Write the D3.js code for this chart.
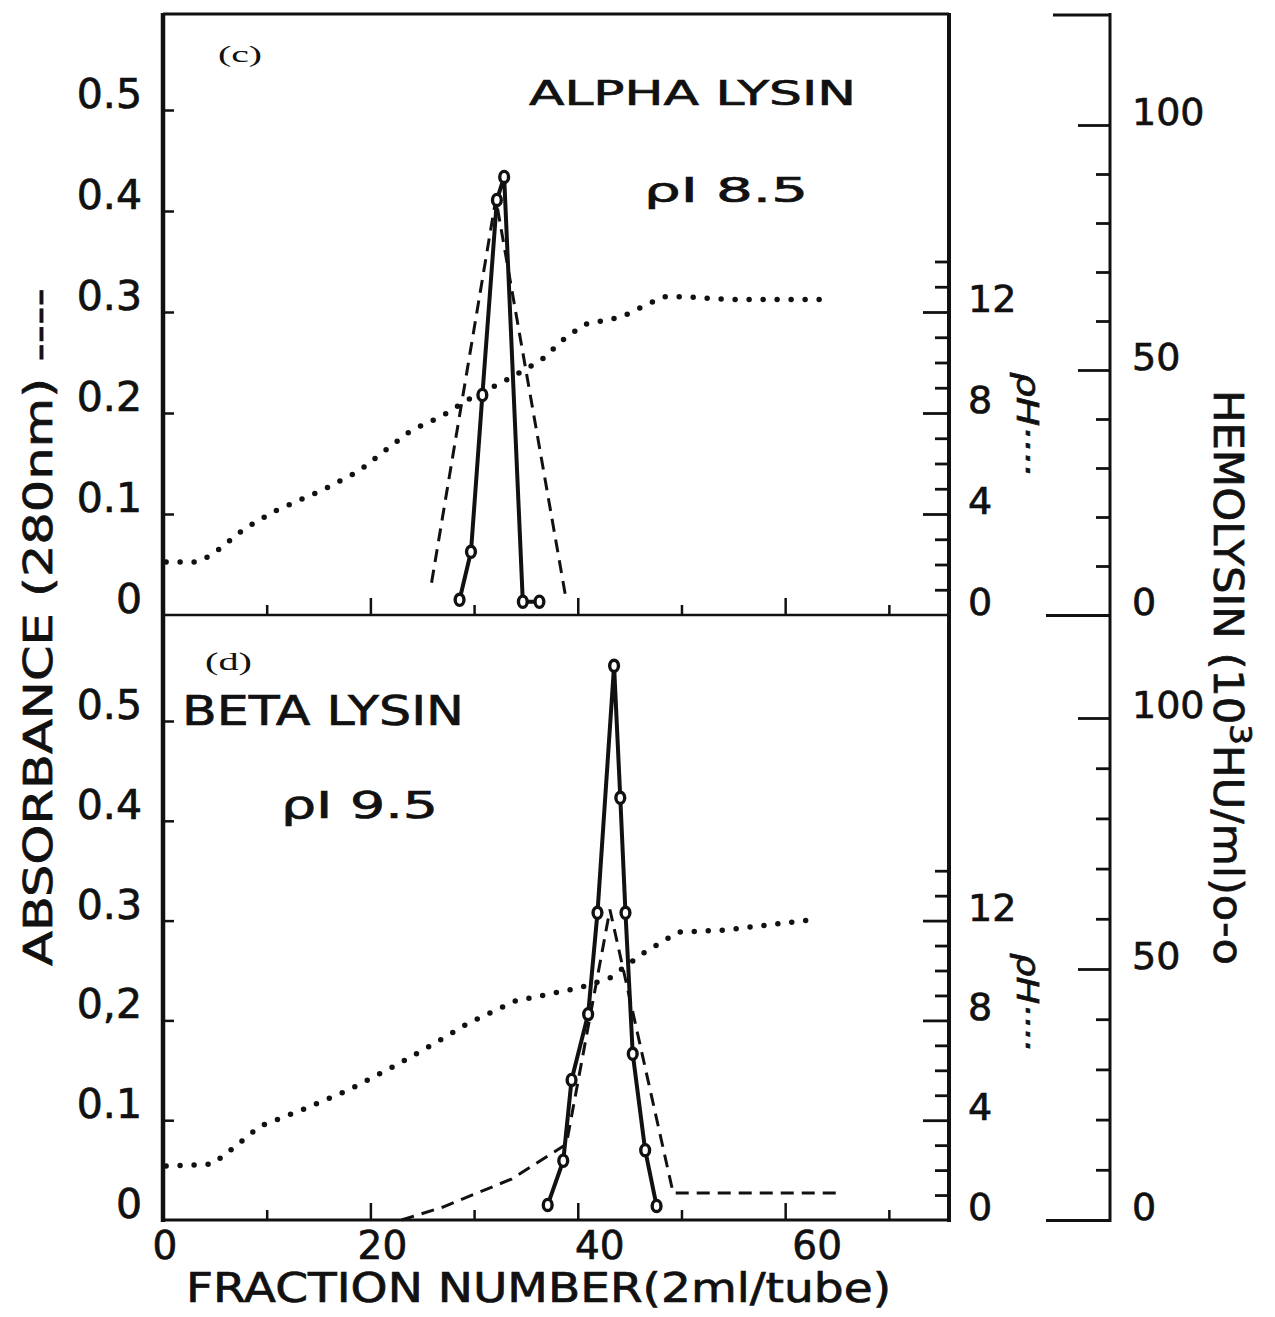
<!DOCTYPE html>
<html><head><meta charset="utf-8">
<script src="https://cdn.jsdelivr.net/npm/d3@7/dist/d3.min.js"></script>
<style>body{margin:0;background:#fff}svg{display:block}
text.heavy{stroke:#111;stroke-width:0.7px}</style>
</head><body>
<svg id="chart" width="1275" height="1317"></svg>
<script>
// ---------- data ----------
const fractionMajorTicks = [20, 40, 60];
const fractionMinorTicks = [10, 30, 50, 70];
const fractionLabels = [0, 20, 40, 60];
const absTickValues = [0, 0.1, 0.2, 0.3, 0.4, 0.5];
const absLabelsTop = ["0", "0.1", "0.2", "0.3", "0.4", "0.5"];
const absLabelsBottom = ["0", "0.1", "0,2", "0.3", "0.4", "0.5"];
const phMajorTicks = [4, 8, 12];
const phMinorTicks = [1, 2, 3, 5, 6, 7, 9, 10, 11, 13, 14];
const phLabels = [0, 4, 8, 12];
const hemoMinorTicks = [10, 20, 30, 40, 60, 70, 80, 90];
const hemoMajorTicks = [50, 100];
const hemoLabels = [0, 50, 100];

// panel (c) alpha lysin
const alphaHemoFraction = [28.6, 29.7, 30.8, 32.2, 32.9, 34.7, 36.3];
const alphaHemolysin    = [3.1, 12.9, 44.9, 84.7, 89.4, 2.7, 2.7];
const alphaAbsFraction  = [25.9, 32.1, 38.8];
const alphaAbsorbance   = [0.032, 0.412, 0.020];
const alphaPhFraction   = [0.3, 3.3, 4.8, 7.8, 10.7, 15.4, 18.9, 20.9, 23.9, 27.0, 29.5, 33.1, 36.5, 38.6, 40.6, 44.2, 46.2, 48.2, 50.7, 54.2, 63.3];
const alphaPh           = [2.1, 2.1, 2.4, 3.4, 4.1, 4.95, 5.7, 6.35, 7.3, 7.9, 8.55, 9.3, 10.1, 10.9, 11.5, 11.8, 12.2, 12.6, 12.6, 12.5, 12.5];

// panel (d) beta lysin
const betaHemoFraction = [37.1, 38.6, 39.4, 41.0, 41.9, 43.5, 44.1, 44.6, 45.3, 46.5, 47.6];
const betaHemolysin    = [3.0, 11.8, 27.9, 41.0, 61.2, 110.4, 84.1, 61.2, 33.1, 13.9, 2.8];
const betaAbsFraction  = [23.0, 27.0, 33.6, 38.9, 43.1, 49.2, 65.3];
const betaAbsorbance   = [0.0, 0.013, 0.041, 0.076, 0.311, 0.027, 0.027];
const betaPhFraction   = [0.3, 4.8, 6.3, 9.4, 13.4, 17.9, 22.5, 25.9, 29.5, 34.0, 40.1, 43.1, 46.2, 49.7, 54.2, 62.3];
const betaPh           = [2.16, 2.24, 2.73, 3.77, 4.41, 5.21, 6.21, 7.01, 7.9, 8.78, 9.3, 9.7, 10.66, 11.54, 11.62, 12.02];

// ---------- drawing ----------
const FONT = "'DejaVu Sans', Verdana, sans-serif";
const svg = d3.select("#chart");
const x = d3.scaleLinear().domain([0, 75.8]).range([163, 949]);
const xL = x.range()[0], xR = x.range()[1];
const hemoAxisX = 1110;

const panels = [
  { top: 14, bottom: 615,
    yAbs: d3.scaleLinear().domain([0, 0.5]).range([615, 110]),
    yPh: d3.scaleLinear().domain([0, 20]).range([615, 110]),
    yHemo: d3.scaleLinear().domain([0, 100]).range([615, 125]),
    absLabels: absLabelsTop,
    hemoF: alphaHemoFraction, hemo: alphaHemolysin,
    absF: alphaAbsFraction, abs: alphaAbsorbance,
    phF: alphaPhFraction, ph: alphaPh,
    phLabelSpan: [1017, 372, 104] },
  { top: 615, bottom: 1220,
    yAbs: d3.scaleLinear().domain([0, 0.5]).range([1220, 721]),
    yPh: d3.scaleLinear().domain([0, 20]).range([1220, 721]),
    yHemo: d3.scaleLinear().domain([0, 100]).range([1220, 718]),
    absLabels: absLabelsBottom,
    hemoF: betaHemoFraction, hemo: betaHemolysin,
    absF: betaAbsFraction, abs: betaAbsorbance,
    phF: betaPhFraction, ph: betaPh,
    phLabelSpan: [1017, 953, 98] }
];

function styleAxis(g, w) {
  g.select(".domain").remove();
  g.selectAll(".tick line").attr("stroke", "#111").attr("stroke-width", w);
}

panels.forEach((p) => {
  const g = svg.append("g");

  // pH dotted curve
  g.append("path")
    .attr("d", d3.line().x((d, i) => x(p.phF[i])).y(d => p.yPh(d))(p.ph))
    .attr("fill", "none").attr("stroke", "#111").attr("stroke-width", 5.5)
    .attr("stroke-linecap", "round").attr("stroke-dasharray", "0 14");

  // absorbance dashed curve
  g.append("path")
    .attr("d", d3.line().x((d, i) => x(p.absF[i])).y(d => p.yAbs(d))(p.abs))
    .attr("fill", "none").attr("stroke", "#111").attr("stroke-width", 3)
    .attr("stroke-dasharray", "13 8");

  // hemolysin solid curve with open circles
  g.append("path")
    .attr("d", d3.line().x((d, i) => x(p.hemoF[i])).y(d => p.yHemo(d))(p.hemo))
    .attr("fill", "none").attr("stroke", "#111").attr("stroke-width", 4)
    .attr("stroke-linejoin", "round");
  g.selectAll("ellipse.pt").data(p.hemo).join("ellipse")
    .attr("class", "pt")
    .attr("cx", (d, i) => x(p.hemoF[i])).attr("cy", d => p.yHemo(d))
    .attr("rx", 4.4).attr("ry", 5.6)
    .attr("fill", "#fff").attr("stroke", "#111").attr("stroke-width", 3.4);

  // left absorbance axis: ticks inside, labels raised above ticks
  const la = g.append("g").attr("transform", `translate(${xL},0)`)
    .call(d3.axisLeft(p.yAbs).tickValues(absTickValues.slice(1)).tickSizeInner(-11).tickSizeOuter(0).tickFormat(""));
  styleAxis(la, 2.5);
  g.selectAll("text.abslab").data(absTickValues).join("text")
    .attr("class", "abslab heavy")
    .attr("x", xL - 21).attr("y", d => p.yAbs(d) - 16)
    .attr("text-anchor", "end").attr("dominant-baseline", "central")
    .attr("font-family", FONT).attr("font-size", 41).attr("fill", "#111")
    .text((d, i) => p.absLabels[i]);

  // x ticks pointing up from panel bottom
  const xa1 = g.append("g").attr("transform", `translate(0,${p.bottom})`)
    .call(d3.axisBottom(x).tickValues(fractionMajorTicks).tickSizeInner(-17).tickSizeOuter(0).tickFormat(""));
  styleAxis(xa1, 2.5);
  const xa2 = g.append("g").attr("transform", `translate(0,${p.bottom})`)
    .call(d3.axisBottom(x).tickValues(fractionMinorTicks).tickSizeInner(-10).tickSizeOuter(0).tickFormat(""));
  styleAxis(xa2, 2.5);

  // pH axis (right edge of the box), ticks pointing inward
  const pa1 = g.append("g").attr("transform", `translate(${xR},0)`)
    .call(d3.axisLeft(p.yPh).tickValues(phMajorTicks).tickSizeInner(26).tickSizeOuter(0).tickFormat(""));
  styleAxis(pa1, 2.8);
  const pa2 = g.append("g").attr("transform", `translate(${xR},0)`)
    .call(d3.axisLeft(p.yPh).tickValues(phMinorTicks).tickSizeInner(14).tickSizeOuter(0).tickFormat(""));
  styleAxis(pa2, 2.8);
  g.selectAll("text.phlab").data(phLabels).join("text")
    .attr("class", "phlab heavy")
    .attr("x", 968).attr("y", d => p.yPh(d) - 13)
    .attr("text-anchor", "start").attr("dominant-baseline", "central")
    .attr("font-family", FONT).attr("font-size", 38).attr("fill", "#111")
    .text(d => d);
  // rotated pH label
  const [plx, ply, pll] = p.phLabelSpan;
  g.append("text")
    .attr("class", "heavy")
    .attr("transform", `translate(${plx},${ply}) rotate(90)`)
    .attr("font-family", FONT).attr("font-size", 31).attr("font-style", "italic").attr("fill", "#111")
    .attr("textLength", pll).attr("lengthAdjust", "spacingAndGlyphs")
    .text("ρH····");

  // hemolysin axis ticks
  const ha1 = g.append("g").attr("transform", `translate(${hemoAxisX},0)`)
    .call(d3.axisLeft(p.yHemo).tickValues(hemoMinorTicks).tickSizeInner(14).tickSizeOuter(0).tickFormat(""));
  styleAxis(ha1, 2.8);
  const ha2 = g.append("g").attr("transform", `translate(${hemoAxisX},0)`)
    .call(d3.axisLeft(p.yHemo).tickValues(hemoMajorTicks).tickSizeInner(32).tickSizeOuter(0).tickFormat(""));
  styleAxis(ha2, 2.8);
  const ha3 = g.append("g").attr("transform", `translate(${hemoAxisX},0)`)
    .call(d3.axisLeft(p.yHemo).tickValues([0]).tickSizeInner(64).tickSizeOuter(0).tickFormat(""));
  styleAxis(ha3, 2.8);
  g.selectAll("text.hlab").data(hemoLabels).join("text")
    .attr("class", "hlab heavy")
    .attr("x", 1132).attr("y", d => p.yHemo(d) - 13)
    .attr("text-anchor", "start").attr("dominant-baseline", "central")
    .attr("font-family", FONT).attr("font-size", 38).attr("fill", "#111")
    .text(d => d);
});

// ---------- frame ----------
const frameTop = panels[0].top, frameMid = panels[0].bottom, frameBot = panels[1].bottom;
const frame = svg.append("g").attr("stroke", "#111").attr("fill", "none");
frame.append("line").attr("x1", xL).attr("x2", xL).attr("y1", frameTop - 1).attr("y2", frameBot + 2).attr("stroke-width", 4.5);
frame.append("line").attr("x1", xR).attr("x2", xR).attr("y1", frameTop - 1).attr("y2", frameBot + 2).attr("stroke-width", 4);
frame.append("line").attr("x1", xL).attr("x2", xR).attr("y1", frameTop).attr("y2", frameTop).attr("stroke-width", 3);
frame.append("line").attr("x1", xL).attr("x2", xR).attr("y1", frameMid).attr("y2", frameMid).attr("stroke-width", 2.5);
frame.append("line").attr("x1", xL).attr("x2", xR).attr("y1", frameBot).attr("y2", frameBot).attr("stroke-width", 3);
// hemolysin axis spine + top cap
frame.append("line").attr("x1", hemoAxisX).attr("x2", hemoAxisX).attr("y1", frameTop - 1).attr("y2", frameBot + 2).attr("stroke-width", 3);
frame.append("line").attr("x1", hemoAxisX - 57).attr("x2", hemoAxisX).attr("y1", frameTop + 1).attr("y2", frameTop + 1).attr("stroke-width", 2.8);

// ---------- x tick labels & axis titles ----------
svg.selectAll("text.xlab").data(fractionLabels).join("text")
  .attr("class", "xlab heavy")
  .attr("x", d => x(d) + 2 + d * 0.5).attr("y", 1245)
  .attr("text-anchor", "middle").attr("dominant-baseline", "central")
  .attr("font-family", FONT).attr("font-size", 39).attr("fill", "#111")
  .text(d => d);

svg.append("text")
  .attr("class", "heavy")
  .attr("x", 186).attr("y", 1302)
  .attr("font-family", FONT).attr("font-size", 40).attr("fill", "#111")
  .attr("textLength", 705).attr("lengthAdjust", "spacingAndGlyphs")
  .text("FRACTION NUMBER(2ml/tube)");

svg.append("text")
  .attr("class", "heavy")
  .attr("transform", "translate(52,966) rotate(-90)")
  .attr("font-family", FONT).attr("font-size", 39).attr("fill", "#111")
  .attr("textLength", 678).attr("lengthAdjust", "spacingAndGlyphs")
  .text("ABSORBANCE (280nm) ----");

const hemoTitle = svg.append("text")
  .attr("class", "heavy")
  .attr("transform", "translate(1214,390) rotate(90)")
  .attr("font-family", FONT).attr("font-size", 40).attr("fill", "#111")
  .attr("textLength", 575).attr("lengthAdjust", "spacingAndGlyphs");
hemoTitle.append("tspan").text("HEMOLYSIN (10");
hemoTitle.append("tspan").attr("dy", -16).attr("font-size", 30).text("3");
hemoTitle.append("tspan").attr("dy", 16).text("HU/ml)o-o");

// ---------- panel annotations ----------
const ann = [
  { t: "(c)", x: 218, y: 62, s: 24, serif: true, len: 44 },
  { t: "ALPHA LYSIN", x: 529, y: 105, s: 34, len: 327 },
  { t: "ρI 8.5", x: 644, y: 202, s: 34, len: 164 },
  { t: "(d)", x: 205, y: 670, s: 26, serif: true, len: 47 },
  { t: "BETA LYSIN", x: 182, y: 725, s: 41, len: 282 },
  { t: "ρI 9.5", x: 281, y: 818, s: 38, len: 157 }
];
svg.selectAll("text.ann").data(ann).join("text")
  .attr("class", d => d.serif ? "ann" : "ann heavy")
  .attr("x", d => d.x).attr("y", d => d.y)
  .attr("font-family", d => d.serif ? "'Liberation Serif', 'DejaVu Serif', serif" : FONT)
  .attr("font-size", d => d.s).attr("fill", "#111")
  .attr("textLength", d => d.len).attr("lengthAdjust", "spacingAndGlyphs")
  .text(d => d.t);
</script>
</body></html>
